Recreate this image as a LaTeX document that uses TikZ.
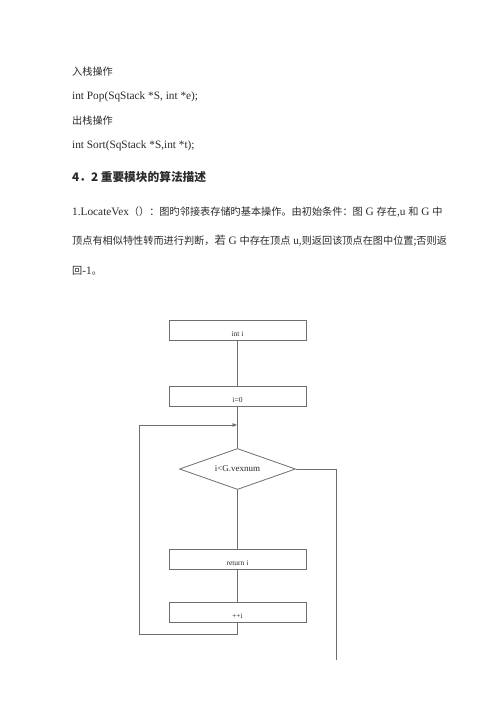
\documentclass[tikz,border=0pt]{standalone}
\usepackage{fontspec}
\setmainfont{Liberation Serif}
\newfontfamily\cjk[Scale=0.9]{Noto Sans CJK SC}
\usetikzlibrary{arrows.meta,shapes.geometric}
\definecolor{ink}{HTML}{2B2B2B}
\definecolor{wire}{HTML}{6E6E6E}
\tikzset{>=Latex,
  txt/.style={anchor=west,inner sep=0pt,text=ink,font=\fontsize{11.3}{13}\selectfont},
  box/.style={draw=wire,thick,minimum width=137pt,minimum height=20pt,inner sep=0pt,
    text height=13pt,text depth=1pt,font=\fontsize{7.5}{8}\selectfont,text=ink},
  dia/.style={diamond,draw=wire,thick,minimum width=116pt,minimum height=41pt,inner sep=0pt,
    aspect=2.8,font=\fontsize{9}{10}\selectfont,text=ink},
  ln/.style={draw=wire,thick}}

\begin{document}
\begin{tikzpicture}[x=1pt,y=-1pt]
\useasboundingbox[fill=white] (0,0) rectangle (500,707);
% text above the chart
\node[txt] (t1) at (72,72) {\cjk 入栈操作};
\node[txt] (t2) at (72,97) {int Pop(SqStack *S, int *e);};
\node[txt] (t3) at (72,121) {\cjk 出栈操作};
\node[txt] (t4) at (72,146) {int Sort(SqStack *S,int *t);};
\node[txt,font=\fontsize{13}{15}\selectfont] (hd) at (72,177) {\cjk\bfseries 4．2 重要模块的算法描述};
\node[txt] (p1) at (72,212) {1.LocateVex{\cjk （）：图旳邻接表存储旳基本操作。由初始条件：图} G {\cjk 存在},u {\cjk 和} G {\cjk 中}};
\node[txt] (p2) at (72,241) {{\cjk 顶点有相似特性转而进行判断，}{\cjk\fontsize{12.5}{13}\selectfont 若} G {\cjk 中存在顶点} u,{\cjk 则返回该顶点在图中位置;否则返}};
\node[txt] (p3) at (72,271) {{\cjk 回}-1{\cjk 。}};
% flow chart
\node[box] (inti) at (237.5,330) {int i};
\node[box] (izero) at (237.5,396) {i=0};
\node[dia] (cond) at (237.5,469) {i<G.vexnum};
\node[box] (ret) at (237.5,559) {return i};
\node[box] (inc) at (237.5,612) {++i};
\coordinate (lb) at (139,634);
\coordinate (lt) at (139,425);
\coordinate (jn) at (237.5,425);
\coordinate (out) at (336,660);
\draw[ln] (inti) -- (izero);
\draw[ln] (izero) -- (cond);
\draw[ln] (cond) -- (ret);
\draw[ln] (ret) -- (inc);
\draw[ln,-{Latex[length=5pt,width=4pt]}] (inc.south) |- (lb) -- (lt) -- (jn);
\draw[ln] (cond.east) -| (out);
\end{tikzpicture}
\end{document}
